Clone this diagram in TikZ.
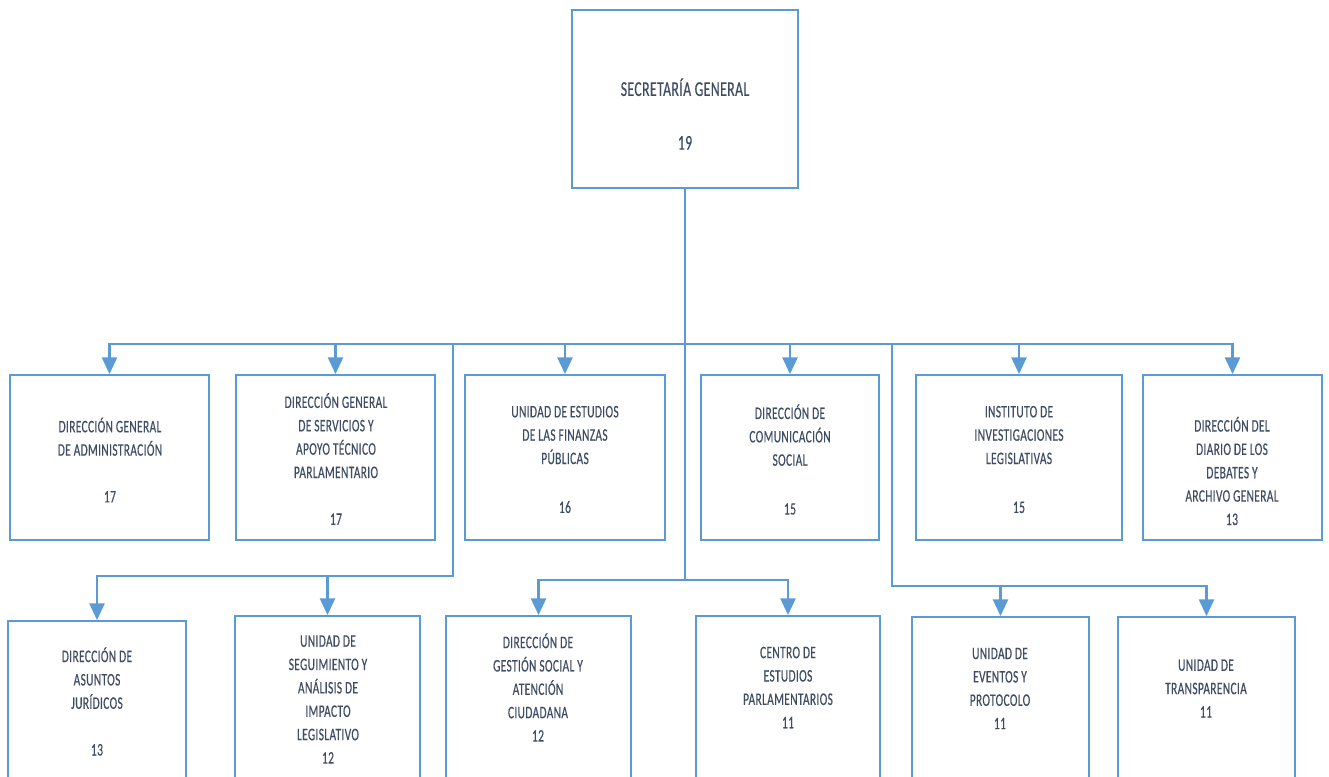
\documentclass[tikz,border=0pt]{standalone}
\usepackage{fontspec}
\usetikzlibrary{arrows.meta,fit}
\newfontfamily\unitfont[FakeStretch=0.65,LetterSpace=2,FakeBold=0.4]{Carlito}
\definecolor{linkblue}{HTML}{5B9BD5}
\definecolor{textslate}{HTML}{3E4D63}
\begin{document}
\begin{tikzpicture}[x=0.02cm,y=-0.02cm,
  unitbox/.style={draw=linkblue,line width=1pt,inner sep=0pt},
  unittext/.style={text=textslate,font=\unitfont\fontsize{10}{13.3}\selectfont,align=center,inner sep=0pt},
  headtext/.style={text=textslate,font=\unitfont\fontsize{12}{30.6}\selectfont,align=center,inner sep=0pt},
  link/.style={draw=linkblue,line width=1.4pt},
  drop/.style={link,-{Triangle[width=8.5pt,length=9.5pt]}},
]
\useasboundingbox (0,0) rectangle (1329,777);
\clip (0,0) rectangle (1329,777);

% head office
\node[unitbox, fit={(572,10) (798,188)}] (sg) {};
\node[headtext] (sgT) at (685,114) {SECRETARÍA GENERAL\\19};

% first level
\node[unitbox, fit={(10,375) (209,540)}] (dga) {};
\node[unitbox, fit={(236,375) (435,540)}] (dgs) {};
\node[unitbox, fit={(465,375) (665,540)}] (uefp) {};
\node[unitbox, fit={(701,375) (879,540)}] (dcs) {};
\node[unitbox, fit={(916,375) (1122,540)}] (iil) {};
\node[unitbox, fit={(1143,375) (1322,540)}] (ddd) {};

\node[unittext] (dgaT) at (110,460) {DIRECCIÓN GENERAL\\DE ADMINISTRACIÓN\\[13.3pt]17};
\node[unittext] (dgsT) at (336,459) {DIRECCIÓN GENERAL\\DE SERVICIOS Y\\APOYO TÉCNICO\\PARLAMENTARIO\\[13.3pt]17};
\node[unittext] (uefpT) at (565,459.5) {UNIDAD DE ESTUDIOS\\DE LAS FINANZAS\\PÚBLICAS\\[14.5pt]16};
\node[unittext] (dcsT) at (790,459.5) {DIRECCIÓN DE\\COMUNICACIÓN\\SOCIAL\\[14.5pt]15};
\node[unittext] (iilT) at (1019,459.5) {INSTITUTO DE\\INVESTIGACIONES\\LEGISLATIVAS\\[14.5pt]15};
\node[unittext] (dddT) at (1232,471) {DIRECCIÓN DEL\\DIARIO DE LOS\\DEBATES Y\\ARCHIVO GENERAL\\13};

% second level
\node[unitbox, fit={(8,621) (186,800)}] (daj) {};
\node[unitbox, fit={(235,616) (420,800)}] (usa) {};
\node[unitbox, fit={(446,616) (631,800)}] (gsa) {};
\node[unitbox, fit={(696,616) (880,800)}] (cep) {};
\node[unitbox, fit={(912,617) (1089,800)}] (uep) {};
\node[unitbox, fit={(1118,617) (1295,800)}] (ut) {};

\node[unittext] (dajT) at (97,701.5) {DIRECCIÓN DE\\ASUNTOS\\JURÍDICOS\\[13.3pt]13};
\node[unittext] (usaT) at (328,699.5) {UNIDAD DE\\SEGUIMIENTO Y\\ANÁLISIS DE\\IMPACTO\\LEGISLATIVO\\12};
\node[unittext] (gsaT) at (538,687.5) {DIRECCIÓN DE\\GESTIÓN SOCIAL Y\\ATENCIÓN\\CIUDADANA\\12};
\node[unittext] (cepT) at (788,687.5) {CENTRO DE\\ESTUDIOS\\PARLAMENTARIOS\\11};
\node[unittext] (uepT) at (1000,688.5) {UNIDAD DE\\EVENTOS Y\\PROTOCOLO\\11};
\node[unittext] (utT) at (1206,688.5) {UNIDAD DE\\TRANSPARENCIA\\11};

% connector hubs
\coordinate (busTop) at (685,344);
\coordinate (hubL) at (453,576);
\coordinate (hubM) at (685,580);
\coordinate (hubR) at (892,586);

% trunk and first-level bus
\draw[link] (sg.south) -- (hubM);
\draw[drop] (busTop) -| (dga.north);
\draw[drop] (busTop) -| (ddd.north);
\foreach \n in {dgs,uefp,dcs,iil}
  \draw[drop] (\n.north |- busTop) -- (\n.north);

% left branch
\draw[drop] (hubL |- busTop) -- (hubL) -| (daj.north);
\draw[drop] (usa.north |- hubL) -- (usa.north);

% middle branch
\draw[drop] (hubM) -| (gsa.north);
\draw[drop] (hubM) -| (cep.north);

% right branch
\draw[drop] (hubR |- busTop) -- (hubR) -| (ut.north);
\draw[drop] (uep.north |- hubR) -- (uep.north);
\end{tikzpicture}
\end{document}
